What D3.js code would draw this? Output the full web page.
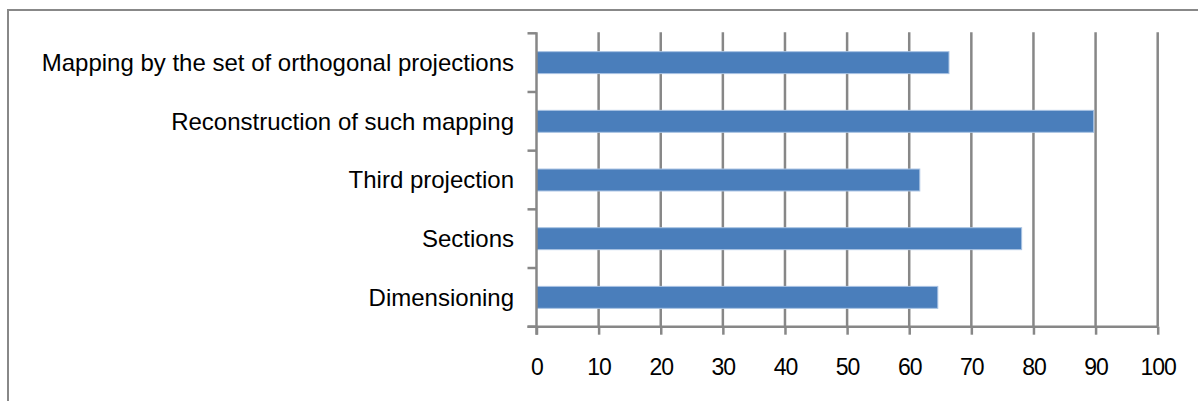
<!DOCTYPE html>
<html><head><meta charset="utf-8">
<script src="https://cdn.jsdelivr.net/npm/d3@7"></script>
<style>body{margin:0;background:#fff}svg{display:block}</style>
</head><body>
<svg id="c" width="1198" height="401"></svg>
<script>
const categories = ["Mapping by the set of orthogonal projections","Reconstruction of such mapping","Third projection","Sections","Dimensioning"];
const values = [66.4, 89.7, 61.7, 78.1, 64.6];
const xTicks = [0,10,20,30,40,50,60,70,80,90,100];

(function(){
const svg = d3.select("#c");
svg.append("rect").attr("x",8).attr("y",10).attr("width",1200).attr("height",400)
  .attr("fill","#fff").attr("stroke","#888").attr("stroke-width",2);

const pL=536.5, pR=1157.7, pT=33.3, pB=326.7;
const x = d3.scaleLinear().domain([0,100]).range([pL,pR]);
const y = d3.scaleBand().domain(categories).range([pT,pB]).paddingInner(0.626).paddingOuter(0.313);

// gridlines
svg.append("g").selectAll("line").data(xTicks.filter(d=>d>0)).join("line")
  .attr("x1",d=>x(d)).attr("x2",d=>x(d)).attr("y1",pT-1).attr("y2",pB)
  .attr("stroke","#878787").attr("stroke-width",2.5);

// bars
svg.append("g").selectAll("rect").data(values).join("rect")
  .attr("x",x(0)).attr("y",(d,i)=>y(categories[i]))
  .attr("width",d=>x(d)-x(0)).attr("height",y.bandwidth())
  .attr("fill","#4a7ebb").attr("stroke","#a9c3e3").attr("stroke-width",1);

// x axis
const xa = svg.append("g").attr("transform",`translate(0,${pB})`)
  .call(d3.axisBottom(x).tickValues(xTicks).tickSize(8).tickSizeOuter(0).tickPadding(24));
xa.select(".domain").attr("stroke","#878787").attr("stroke-width",2.5).attr("d",`M${pL-9},0H${pR}`);
xa.selectAll(".tick line").attr("stroke","#878787").attr("stroke-width",2.5);
xa.selectAll("text").attr("font-family","Liberation Sans, Arial, sans-serif").attr("font-size",23).attr("fill","#000").attr("letter-spacing","-1px");

// y axis line and ticks at band boundaries
svg.append("line").attr("x1",pL).attr("x2",pL).attr("y1",pT-1).attr("y2",pB+8)
  .attr("stroke","#878787").attr("stroke-width",2.5);
const step = y.step();
const bounds = d3.range(categories.length+1).map(i=>pT+i*step);
svg.append("g").selectAll("line").data(bounds).join("line")
  .attr("x1",pL-9).attr("x2",pL).attr("y1",d=>d).attr("y2",d=>d)
  .attr("stroke","#878787").attr("stroke-width",2.5);

// category labels
svg.append("g").selectAll("text").data(categories).join("text")
  .attr("x",514).attr("y",d=>y(d)+y.bandwidth()/2).attr("dy","0.35em")
  .attr("text-anchor","end").attr("font-family","Liberation Sans, Arial, sans-serif")
  .attr("font-size",24).attr("fill","#000").text(d=>d);
})();
</script>
</body></html>
